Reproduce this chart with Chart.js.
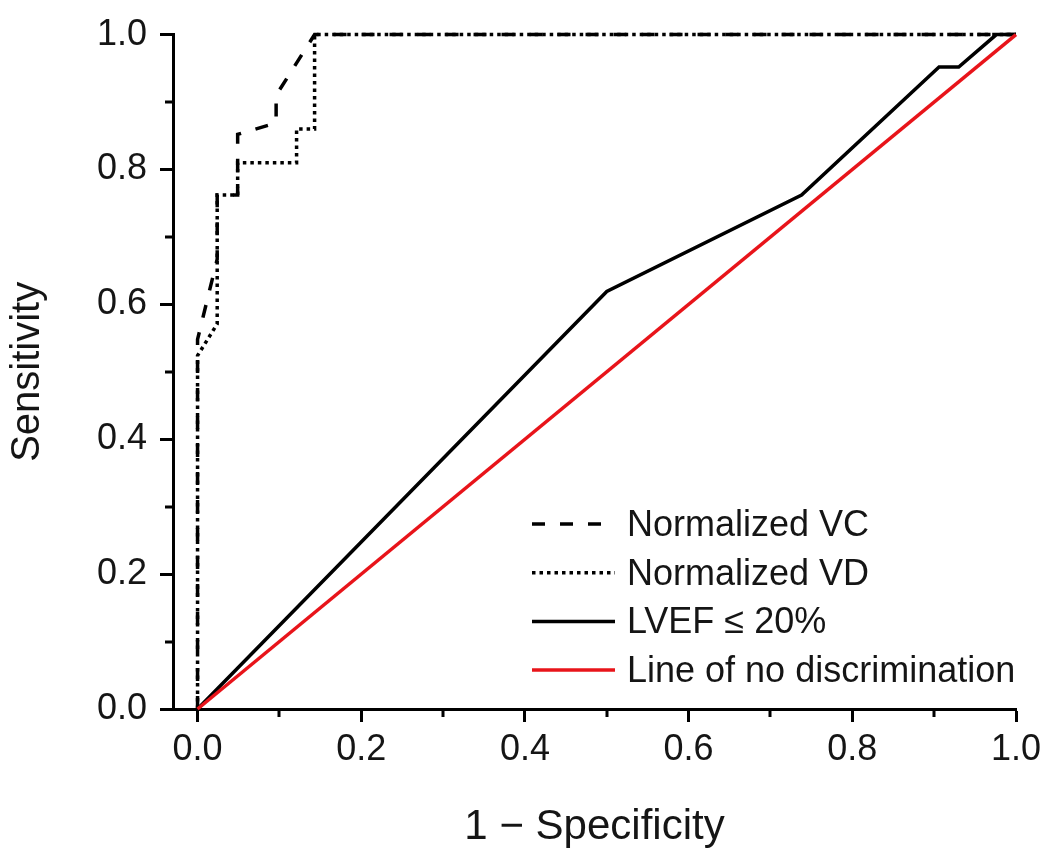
<!DOCTYPE html>
<html>
<head>
<meta charset="utf-8">
<script src="https://cdn.jsdelivr.net/npm/chart.js@4"></script>
<style>
  html, body { margin: 0; padding: 0; background: #ffffff; }
  #c { display: block; }
</style>
</head>
<body>
<canvas id="c" width="1050" height="857"></canvas>
<script>
// ---- data ----
const seriesNames = ["Normalized VC", "Normalized VD", "LVEF \u2264 20%", "Line of no discrimination"];

const vcX = [0, 0, 0.024, 0.024, 0.049, 0.049, 0.096, 0.096, 0.143, 1.0];
const vcY = [0, 0.548, 0.667, 0.762, 0.762, 0.852, 0.869, 0.910, 1.0, 1.0];

const vdX = [0, 0, 0.024, 0.024, 0.049, 0.049, 0.121, 0.121, 0.143, 0.143, 1.0];
const vdY = [0, 0.524, 0.571, 0.762, 0.762, 0.810, 0.810, 0.860, 0.860, 1.0, 1.0];

const lvefX = [0, 0.5, 0.738, 0.906, 0.930, 0.976, 1.0];
const lvefY = [0, 0.619, 0.762, 0.952, 0.952, 1.0, 1.0];

const refX = [0, 1];
const refY = [0, 1];

const xTickValues = [0, 0.2, 0.4, 0.6, 0.8, 1.0];
const yTickValues = [0, 0.2, 0.4, 0.6, 0.8, 1.0];
const xMinorTicks = [0.1, 0.3, 0.5, 0.7, 0.9];
const yMinorTicks = [0.1, 0.3, 0.5, 0.7, 0.9];

const xTitle = "1 \u2212 Specificity";
const yTitle = "Sensitivity";

// ---- helpers ----
const pts = (xs, ys) => xs.map((x, i) => ({ x: x, y: ys[i] }));
const FONT = "'Liberation Sans', Arial, sans-serif";
const TEXT = '#151515';

const minorTicksPlugin = {
  id: 'minorTicks',
  afterDraw(chart) {
    const ctx = chart.ctx;
    const xs = chart.scales.x, ys = chart.scales.y;
    const area = chart.chartArea;
    ctx.save();
    ctx.strokeStyle = '#000';
    ctx.lineWidth = 3;
    ctx.beginPath();
    xMinorTicks.forEach(v => {
      const px = Math.round(xs.getPixelForValue(v));
      ctx.moveTo(px, area.bottom);
      ctx.lineTo(px, area.bottom + 8);
    });
    yMinorTicks.forEach(v => {
      const py = Math.round(ys.getPixelForValue(v));
      ctx.moveTo(area.left, py);
      ctx.lineTo(area.left - 8, py);
    });
    ctx.stroke();
    ctx.restore();
  }
};

const legendPlugin = {
  id: 'insideLegend',
  afterDraw(chart) {
    const ctx = chart.ctx;
    const x0 = 532, x1 = 615, tx = 627;
    const y0 = 524, dy = 48.7;
    ctx.save();
    chart.data.datasets.forEach((ds, i) => {
      const y = y0 + i * dy;
      ctx.beginPath();
      ctx.setLineDash(ds.borderDash || []);
      ctx.strokeStyle = ds.borderColor;
      ctx.lineWidth = ds.borderWidth;
      ctx.lineCap = 'butt';
      ctx.moveTo(x0, y);
      ctx.lineTo(x1, y);
      ctx.stroke();
      ctx.setLineDash([]);
      ctx.fillStyle = TEXT;
      ctx.font = "36px " + FONT;
      ctx.textAlign = 'left';
      ctx.textBaseline = 'middle';
      ctx.fillText(ds.label, tx, y + 2);
    });
    ctx.restore();
  }
};

const common = { showLine: true, pointRadius: 0, pointHoverRadius: 0, fill: false, tension: 0,
                 borderCapStyle: 'butt', borderJoinStyle: 'miter', clip: 6 };

new Chart(document.getElementById('c'), {
  type: 'scatter',
  data: {
    datasets: [
      Object.assign({ label: seriesNames[0], data: pts(vcX, vcY), borderColor: '#000', borderWidth: 3.5,
                      borderDash: [13, 15], order: 1 }, common),
      Object.assign({ label: seriesNames[1], data: pts(vdX, vdY), borderColor: '#000', borderWidth: 3.5,
                      borderDash: [3.5, 4], order: 2 }, common),
      Object.assign({ label: seriesNames[2], data: pts(lvefX, lvefY), borderColor: '#000', borderWidth: 3.5,
                      borderDash: [], order: 3 }, common),
      Object.assign({ label: seriesNames[3], data: pts(refX, refY), borderColor: '#e8141a', borderWidth: 3.5,
                      borderDash: [], order: 0 }, common)
    ]
  },
  options: {
    responsive: false,
    animation: false,
    devicePixelRatio: 1,
    layout: { padding: { top: 33, right: 34, left: 0, bottom: 0 } },
    plugins: { legend: { display: false }, tooltip: { enabled: false } },
    scales: {
      x: {
        type: 'linear', position: 'bottom', min: -0.03, max: 1.0,
        afterFit(s) { s.height = 148; },
        afterBuildTicks(s) { s.ticks = xTickValues.map(v => ({ value: v })); },
        ticks: { font: { family: FONT, size: 36 }, color: TEXT, padding: 6, maxRotation: 0, autoSkip: false,
                 callback: v => Number(v).toFixed(1) },
        grid: { drawOnChartArea: false, drawTicks: true, tickLength: 13, tickWidth: 3, tickColor: '#000' },
        border: { display: true, color: '#000', width: 3 },
        title: { display: true, text: xTitle, font: { family: FONT, size: 42 }, color: TEXT,
                 padding: { top: 0, bottom: 4 } }
      },
      y: {
        type: 'linear', position: 'left', min: 0, max: 1.0,
        afterFit(s) { s.width = 173; },
        afterBuildTicks(s) { s.ticks = yTickValues.map(v => ({ value: v })); },
        ticks: { font: { family: FONT, size: 36 }, color: TEXT, padding: 13, autoSkip: false,
                 callback: v => Number(v).toFixed(1) },
        grid: { drawOnChartArea: false, drawTicks: true, tickLength: 13, tickWidth: 3, tickColor: '#000' },
        border: { display: true, color: '#000', width: 3 },
        title: { display: true, text: yTitle, font: { family: FONT, size: 40 }, color: TEXT,
                 padding: { top: 4, bottom: 0 } }
      }
    }
  },
  plugins: [minorTicksPlugin, legendPlugin]
});
</script>
</body>
</html>
